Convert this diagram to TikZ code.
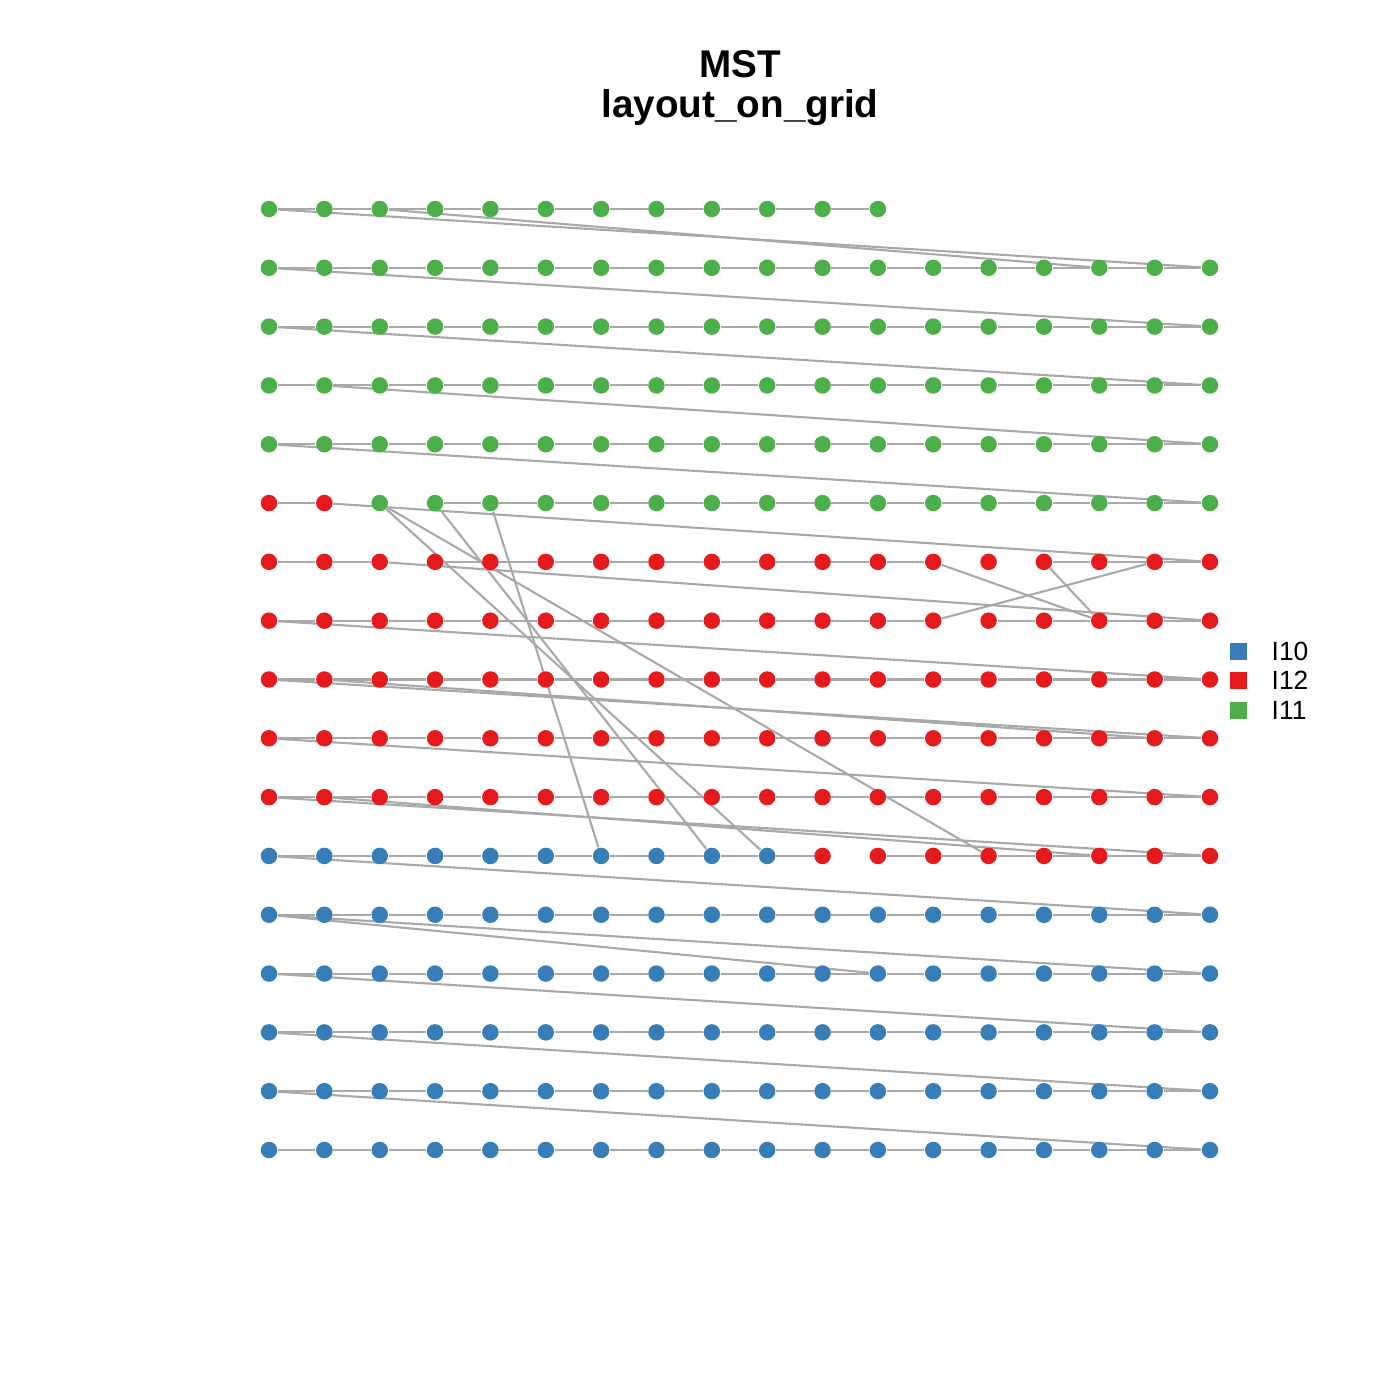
\documentclass[tikz,border=0pt]{standalone}
\usepackage{fontspec}
\setmainfont{Liberation Sans}
\usetikzlibrary{backgrounds}
\definecolor{Iblue}{HTML}{377EB8}
\definecolor{Ired}{HTML}{E41A1C}
\definecolor{Igreen}{HTML}{4DAF4A}
\definecolor{edgegray}{HTML}{A9A9A9}

\begin{document}
\begin{tikzpicture}[
  dot/.style={circle,inner sep=0pt,minimum size=0.165cm,draw=none},
  edge/.style={draw=edgegray,line width=0.6pt},
  key/.style={inner sep=0pt,minimum size=0.17cm},
  keytext/.style={anchor=west,font=\fontsize{7.5}{9}\selectfont,inner sep=0pt}]
\useasboundingbox (0,0) rectangle (14,-14);

% title
\node[font=\bfseries\fontsize{11}{13}\selectfont,anchor=base] (title) at (7.40,-0.77) {MST};
\node[font=\bfseries\fontsize{11}{13}\selectfont,anchor=base] (subtitle) at (7.40,-1.17) {layout\_on\_grid};

% vertices, row 0 is the top one
\foreach \r in {0,...,16}{
  \pgfmathtruncatemacro\last{\r==0 ? 11 : 17}
  \foreach \c in {0,...,\last}{
    \def\col{Igreen}
    \ifnum\r>5 \def\col{Ired}\fi
    \ifnum\r=5 \ifnum\c<2 \def\col{Ired}\fi\fi
    \ifnum\r>10 \def\col{Iblue}\fi
    \ifnum\r=11 \ifnum\c>9 \def\col{Ired}\fi\fi
    \node[dot,fill=\col] (v\r-\c) at ({2.69+0.55353*\c},{-2.09-0.588125*\r}) {};
  }
}

\begin{scope}[on background layer]
\fill[white] (0,0) rectangle (14,-14);
% edges along the rows
\foreach \r/\a/\b in {0/0/11, 1/0/17, 2/0/17, 3/0/17, 4/0/17, 5/0/1, 5/3/17,
    6/0/2, 6/3/12, 6/14/17, 7/0/12, 7/13/17, 8/0/17, 9/0/17, 10/0/17,
    11/0/10, 11/11/17, 12/0/17, 13/0/17, 14/0/17, 15/0/17, 16/0/17}{
  \pgfmathtruncatemacro\e{\b-1}
  \foreach \c in {\a,...,\e}{
    \pgfmathtruncatemacro\n{\c+1}
    \draw[edge] (v\r-\c) -- (v\r-\n);
  }
}
% edges between rows
\foreach \a/\b in {0-0/1-17, 0-2/1-15, 1-0/2-17, 2-0/3-17, 3-1/4-17, 4-0/5-17,
    5-1/6-17, 5-2/11-13, 5-2/11-9, 5-3/11-8, 5-4/11-6, 6-2/7-17,
    6-12/7-15, 6-14/7-15, 7-12/6-16, 7-0/8-17, 8-0/9-17, 8-1/9-16,
    9-0/10-17, 10-0/11-17, 10-1/11-15, 11-0/12-17, 12-0/13-17,
    12-0/13-11, 13-0/14-17, 14-0/15-17, 15-0/16-17}
  \draw[edge] (v\a) -- (v\b);
\end{scope}

% legend
\node[key,fill=Iblue] (k10) at (12.385,-6.51) {};
\node[key,fill=Ired] (k12) at (12.385,-6.80) {};
\node[key,fill=Igreen] (k11) at (12.385,-7.10) {};
\node[keytext] (t10) at (12.71,-6.51) {I10};
\node[keytext] (t12) at (12.71,-6.80) {I12};
\node[keytext] (t11) at (12.71,-7.10) {I11};
\end{tikzpicture}
\end{document}
